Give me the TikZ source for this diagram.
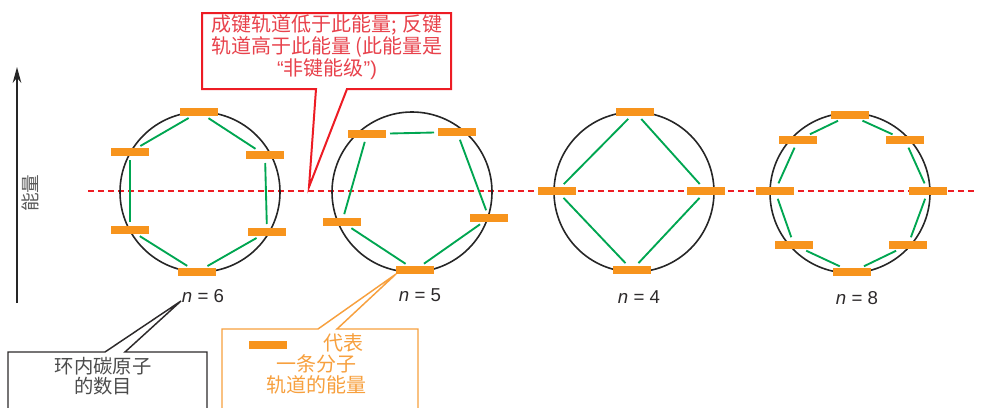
\documentclass[tikz,border=0pt]{standalone}
\usepackage{fontspec}
\setmainfont{Liberation Sans}
\newfontfamily\cjk{Noto Sans CJK SC}
\usepackage{xcolor}
\usetikzlibrary{arrows.meta, positioning}

\definecolor{orbitorange}{RGB}{247,148,29}
\definecolor{bondgreen}{RGB}{0,166,81}
\definecolor{levelred}{RGB}{237,28,36}
\definecolor{notered}{RGB}{232,66,76}
\definecolor{noteorange}{RGB}{247,160,62}
\definecolor{darktext}{RGB}{45,42,43}

\tikzset{
  orbital/.style={rectangle, fill=orbitorange, minimum width=28.5pt,
    minimum height=6pt, inner sep=0pt, outer sep=0pt},
  bond/.style={draw=bondgreen, line width=1.4pt, shorten <=3pt, shorten >=3pt},
  ring/.style={draw=black!85, line width=1.2pt},
  countlabel/.style={font=\fontsize{14}{16}\selectfont, text=darktext},
  cjktext/.style={font=\cjk\fontsize{15}{15.4}\selectfont, align=center, inner sep=0pt}
}

\begin{document}
\begin{tikzpicture}[x=0.75pt, y=-0.75pt, >=Stealth]
  \useasboundingbox (0,0) rectangle (987,407);
  \clip (0,0) rectangle (987,407);

  % Energy axis
  \coordinate (ebottom) at (17,303);
  \coordinate (etop) at (17,67);
  \draw[-{Stealth[length=12pt, width=6.5pt]}, line width=1.1pt, black!85] (ebottom) -- (etop);
  \node[cjktext, rotate=90, text=black!65, font=\cjk\fontsize{14}{14}\selectfont]
    (energy) at (30,193) {能量};

  % Nonbonding level
  \coordinate (nbleft) at (88,191);
  \coordinate (nbright) at (976,191);
  \draw[levelred, line width=1.5pt, dash pattern=on 4.5pt off 3pt] (nbleft) -- (nbright);

  % Rings
  \draw[ring] (200,192) circle[radius=60pt];
  \draw[ring] (412,192) circle[radius=60pt];
  \draw[ring] (634,192) circle[radius=60pt];
  \draw[ring] (850,193) circle[radius=60pt];

  % n = 6
  \node[orbital] (s1) at (199,112) {};
  \node[orbital] (s2) at (265,155) {};
  \node[orbital] (s3) at (267,232) {};
  \node[orbital] (s4) at (197,272) {};
  \node[orbital] (s5) at (130,230) {};
  \node[orbital] (s6) at (130,152) {};
  \draw[bond] (s1) -- (s2);  \draw[bond] (s2) -- (s3);
  \draw[bond] (s3) -- (s4);  \draw[bond] (s4) -- (s5);
  \draw[bond] (s5) -- (s6);  \draw[bond] (s6) -- (s1);

  % n = 5
  \node[orbital] (f1) at (367,134) {};
  \node[orbital] (f2) at (457,132) {};
  \node[orbital] (f3) at (489,218) {};
  \node[orbital] (f4) at (415,270) {};
  \node[orbital] (f5) at (342,222) {};
  \draw[bond] (f1) -- (f2);  \draw[bond] (f2) -- (f3);
  \draw[bond] (f3) -- (f4);  \draw[bond] (f4) -- (f5);
  \draw[bond] (f5) -- (f1);

  % n = 4
  \node[orbital] (q1) at (635,112) {};
  \node[orbital] (q2) at (706,191) {};
  \node[orbital] (q3) at (632,270) {};
  \node[orbital] (q4) at (557,191) {};
  \draw[bond] (q1) -- (q2);  \draw[bond] (q2) -- (q3);
  \draw[bond] (q3) -- (q4);  \draw[bond] (q4) -- (q1);

  % n = 8
  \node[orbital] (e1) at (850,115) {};
  \node[orbital] (e2) at (905,140) {};
  \node[orbital] (e3) at (928,191) {};
  \node[orbital] (e4) at (908,245) {};
  \node[orbital] (e5) at (852,272) {};
  \node[orbital] (e6) at (794,245) {};
  \node[orbital] (e7) at (775,191) {};
  \node[orbital] (e8) at (798,140) {};
  \draw[bond] (e1) -- (e2);  \draw[bond] (e2) -- (e3);
  \draw[bond] (e3) -- (e4);  \draw[bond] (e4) -- (e5);
  \draw[bond] (e5) -- (e6);  \draw[bond] (e6) -- (e7);
  \draw[bond] (e7) -- (e8);  \draw[bond] (e8) -- (e1);

  % Ring sizes
  \node[countlabel] (lab6) at (203,296) {\textit{n} = 6};
  \node[countlabel] (lab5) at (420,295) {\textit{n} = 5};
  \node[countlabel] (lab4) at (639,297) {\textit{n} = 4};
  \node[countlabel] (lab8) at (857,298) {\textit{n} = 8};

  % Callout: nonbonding level
  \coordinate (redtip) at (309,187);
  \draw[levelred, line width=1.5pt, line join=miter, fill=white]
    (202,13) -- (451,13) -- (451,89) -- (347,89) -- (redtip) -- (316,89)
    -- (202,89) -- cycle;
  \node[cjktext, text=notered] (rednote) at (327,47)
    {成键轨道低于此能量; 反键\\轨道高于此能量 (此能量是\\{\rmfamily“}非键能级{\rmfamily”)}};

  % Callout: number of carbons
  \coordinate (blacktip) at (181,301);
  \draw[darktext, line width=1.1pt, fill=white]
    (8,352) -- (105,352) -- (blacktip) -- (125,352) -- (207,352)
    -- (207,420) -- (8,420) -- cycle;
  \node[cjktext, text=black!70, font=\cjk\fontsize{14.5}{14.6}\selectfont]
    (carbonnote) at (103,376) {环内碳原子\\的数目};

  % Callout: orbital legend
  \draw[noteorange, line width=1.1pt, fill=white]
    (222,329) -- (318,329) -- (f4.south west) -- (337,329) -- (418,329)
    -- (418,420) -- (222,420) -- cycle;
  \node[orbital, minimum height=5.5pt] (legbar) at (268,345) {};
  \node[cjktext, text=noteorange, font=\cjk\fontsize{15}{15.6}\selectfont]
    (orbitnote) at (316,364) {\hspace*{40.5pt}代表\\一条分子\\轨道的能量};
\end{tikzpicture}
\end{document}
